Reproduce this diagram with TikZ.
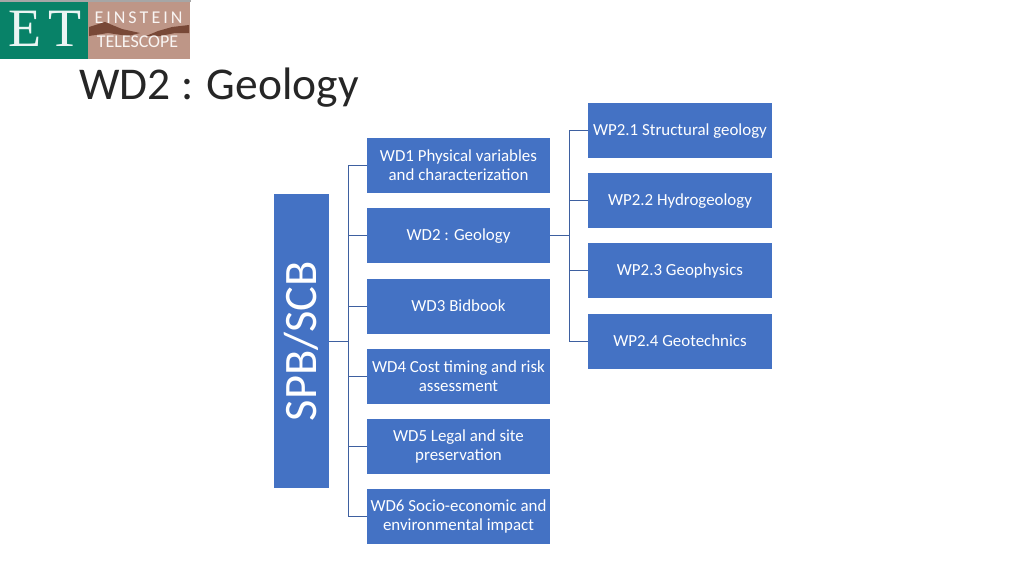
\documentclass[tikz,border=0pt]{standalone}
\usepackage{fontspec}
\setmainfont{Carlito}
\newfontfamily\logofont{Liberation Serif}
\usetikzlibrary{positioning}
\definecolor{boxblue}{RGB}{68,114,196}
\definecolor{linkblue}{RGB}{62,96,160}
\definecolor{etgreen}{RGB}{8,130,104}
\definecolor{etbrown}{RGB}{190,150,135}
\definecolor{ethand}{RGB}{120,72,55}
\tikzset{
  wbox/.style={fill=boxblue, text=white, minimum width=184pt, minimum height=55pt, inner sep=0pt, align=center, font=\fontsize{16.9}{19}\selectfont},
  wdbox/.style={wbox, minimum width=183pt},
  oneline/.style={text height=10.5pt, text depth=0pt},
  link/.style={draw=linkblue, line width=0.9pt},
  logotext/.style={text=white!90!etbrown, inner sep=0pt, font=\fontsize{18}{18}\selectfont},
  logoletter/.style={text=white!92!etgreen, inner sep=0pt, font=\logofont\fontsize{54}{54}\selectfont}
}
\begin{document}
\begin{tikzpicture}[x=1pt, y=-1pt]
  \useasboundingbox (0,0) rectangle (1024,576);
  \fill[white] (0,0) rectangle (1024,576);

  % logo
  \fill[gray!70] (0,0) rectangle (191,2);
  \fill[etgreen] (0,2) rectangle (88,59);
  \fill[etbrown] (88,2) rectangle (190,59);
  \fill[ethand] (89,27) -- (105,22) -- (122,29) -- (140,33) -- (128,36) -- (108,33) -- (89,36) -- cycle;
  \fill[ethand] (189,25) -- (172,27) -- (158,31) -- (146,36) -- (160,36) -- (175,33) -- (189,33) -- cycle;
  \node[logoletter] (logoe) at (25,29) {E};
  \node[logoletter] (logot) at (64.5,29) {T};
  \node[logotext] (einstein) at (138.5,18) {E\,I\,N\,S\,T\,E\,I\,N};
  \node[logotext] (telescope) at (137.5,42) {TELESCOPE};

  \node[anchor=base west, inner sep=0pt, text=black!85, font=\fontsize{45.5}{50}\selectfont] (title) at (79,99) {WD2 : Geology};

  \node[fill=boxblue, text=white, minimum width=55pt, minimum height=294pt, inner sep=0pt] (spb) at (301.5,341) {\rotatebox{90}{\fontsize{46.5}{50}\selectfont SPB/SCB}};

  \node[wdbox] (wd1) at (458.5,165.5) {WD1 Physical variables\\and characterization};
  \node[wdbox, oneline] (wd2) at (458.5,235.5) {WD2 : Geology};
  \node[wdbox, oneline] (wd3) at (458.5,306) {WD3 Bidbook};
  \node[wdbox] (wd4) at (458.5,376.5) {WD4 Cost timing and risk\\assessment};
  \node[wdbox] (wd5) at (458.5,446.5) {WD5 Legal and site\\preservation};
  \node[wdbox] (wd6) at (458.5,516.5) {WD6 Socio-economic and\\environmental impact};

  \node[wbox, oneline] (wp1) at (680,130.5) {WP2.1 Structural geology};
  \node[wbox, oneline] (wp2) at (680,200.5) {WP2.2 Hydrogeology};
  \node[wbox, oneline] (wp3) at (680,270.5) {WP2.3 Geophysics};
  \node[wbox, oneline] (wp4) at (680,341) {WP2.4 Geotechnics};

  \coordinate (wdfork) at (348,341);
  \coordinate (wpfork) at (569,235.5);
  \draw[link] (spb.east) -- (wdfork);
  \foreach \n in {wd1,wd2,wd3,wd4,wd5,wd6} \draw[link] (wdfork) |- (\n.west);
  \draw[link] (wd2.east) -- (wpfork);
  \foreach \n in {wp1,wp2,wp3,wp4} \draw[link] (wpfork) |- (\n.west);
\end{tikzpicture}
\end{document}
